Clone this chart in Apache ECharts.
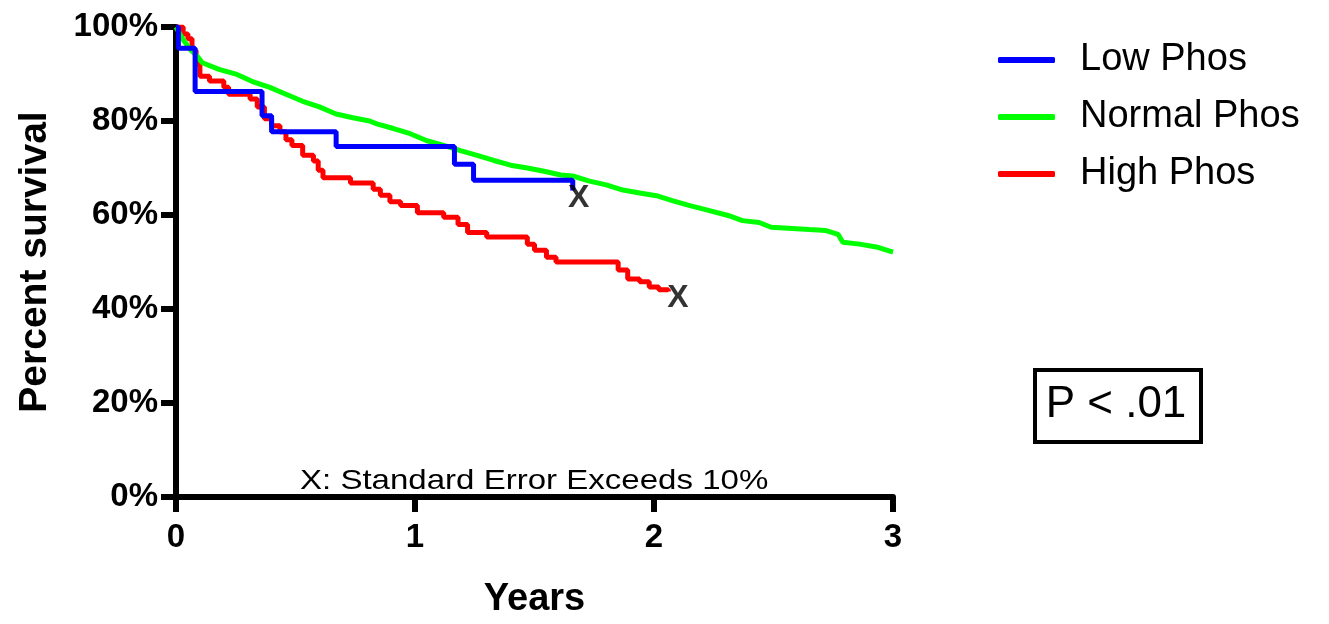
<!DOCTYPE html>
<html>
<head>
<meta charset="utf-8">
<script src="https://cdn.jsdelivr.net/npm/echarts@6/dist/echarts.min.js"></script>
<style>html,body{margin:0;padding:0;background:#fff;}#c{width:1329px;height:624px;}</style>
</head>
<body>
<div id="c"></div>
<script>
// Data (years, percent survival)
var lowTimes  = [0, 0.01, 0.08, 0.36, 0.40, 0.67, 1.165, 1.245, 1.66];
var lowVals   = [100, 95.5, 86.3, 81.1, 77.7, 74.6, 70.8, 67.4, 65.2];

var normalTimes = [0, 0.03, 0.06, 0.09, 0.11, 0.18, 0.255, 0.32, 0.39, 0.46, 0.53, 0.60, 0.67, 0.74, 0.81, 0.84, 0.91, 0.98, 1.05, 1.12, 1.19, 1.26, 1.33, 1.40, 1.47, 1.54, 1.61, 1.66, 1.73, 1.80, 1.87, 1.94, 2.01, 2.08, 2.15, 2.22, 2.31, 2.37, 2.44, 2.49, 2.65, 2.72, 2.77, 2.79, 2.86, 2.93, 3.0];
var normalVals  = [100, 97.3, 95.2, 93.7, 92.4, 91, 89.9, 88.4, 87.2, 85.7, 84.2, 83, 81.5, 80.7, 80, 79.4, 78.4, 77.3, 75.8, 74.8, 73.7, 72.7, 71.6, 70.6, 70, 69.3, 68.5, 68.3, 67.2, 66.4, 65.3, 64.7, 64.1, 63, 62, 61.1, 59.9, 58.8, 58.4, 57.4, 56.9, 56.7, 55.9, 54.2, 53.8, 53.2, 52.1];

var highTimes = [0, 0.03, 0.05, 0.067, 0.084, 0.10, 0.14, 0.20, 0.22, 0.31, 0.34, 0.37, 0.40, 0.435, 0.46, 0.485, 0.53, 0.575, 0.595, 0.615, 0.73, 0.825, 0.855, 0.895, 0.94, 1.01, 1.12, 1.18, 1.22, 1.30, 1.47, 1.50, 1.55, 1.59, 1.85, 1.89, 1.94, 1.98, 2.02, 2.06];
var highVals  = [100, 98.5, 97.5, 95, 92, 89.5, 88.5, 87.2, 85.7, 84.7, 83, 80.5, 79, 77.7, 76, 74.8, 72.7, 71.5, 69.5, 67.9, 66.8, 65.5, 64.2, 62.8, 62, 60.5, 59.5, 58, 56.3, 55.3, 53.8, 52.5, 51, 50, 48.3, 46.4, 45.8, 44.7, 44.1, 43.7];

var seMarks = [[1.685, 63.5], [2.10, 42.2]];

var seriesNames = ['Low Phos', 'Normal Phos', 'High Phos'];
var yTicks = [0, 20, 40, 60, 80, 100];
var xTicks = [0, 1, 2, 3];

function zip(a, b) { return a.map(function (t, i) { return [t, b[i]]; }); }

var font = '"Liberation Sans", Arial, sans-serif';
var chart = echarts.init(document.getElementById('c'), null, {renderer: 'canvas'});
chart.setOption({
  animation: false,
  backgroundColor: '#ffffff',
  grid: {left: 176, right: 436, top: 27, bottom: 121, containLabel: false},
  legend: {
    orient: 'vertical',
    left: 993, top: 35,
    itemWidth: 57, itemHeight: 6, itemGap: 17,
    icon: 'roundRect',
    data: seriesNames,
    textStyle: {fontFamily: font, fontSize: 38, color: '#000', padding: [0, 0, 0, 20], lineHeight: 40}
  },
  xAxis: {
    type: 'value', min: xTicks[0], max: xTicks[xTicks.length - 1], interval: 1,
    name: 'Years', nameLocation: 'middle', nameGap: 84,
    nameTextStyle: {fontFamily: font, fontSize: 38, fontWeight: 'bold', color: '#000'},
    axisLine: {show: true, lineStyle: {color: '#000', width: 6}},
    axisTick: {show: true, length: 15, lineStyle: {color: '#000', width: 6}},
    axisLabel: {fontFamily: font, fontSize: 33, fontWeight: 'bold', color: '#000', margin: 24},
    splitLine: {show: false}
  },
  yAxis: {
    type: 'value', min: yTicks[0], max: yTicks[yTicks.length - 1], interval: 20,
    name: 'Percent survival', nameLocation: 'middle', nameGap: 121,
    nameTextStyle: {fontFamily: font, fontSize: 39, fontWeight: 'bold', color: '#000'},
    axisLine: {show: true, lineStyle: {color: '#000', width: 6}},
    axisTick: {show: true, length: 15, lineStyle: {color: '#000', width: 6}},
    axisLabel: {fontFamily: font, fontSize: 33, fontWeight: 'bold', color: '#000', margin: 18, formatter: '{value}%'},
    splitLine: {show: false}
  },
  series: [
    {name: seriesNames[0], type: 'line', step: 'end', showSymbol: false, symbol: 'none', z: 4,
     data: zip(lowTimes, lowVals), lineStyle: {color: '#0000ff', width: 5}, itemStyle: {color: '#0000ff'}},
    {name: seriesNames[1], type: 'line', showSymbol: false, symbol: 'none', z: 3,
     data: zip(normalTimes, normalVals), lineStyle: {color: '#00ff00', width: 5}, itemStyle: {color: '#00ff00'}},
    {name: seriesNames[2], type: 'line', step: 'end', showSymbol: false, symbol: 'none', z: 2,
     data: zip(highTimes, highVals), lineStyle: {color: '#ff0000', width: 5}, itemStyle: {color: '#ff0000'}},
    {name: 'SE', type: 'scatter', symbolSize: 1, itemStyle: {color: 'rgba(0,0,0,0)'}, z: 6,
     data: seMarks,
     label: {show: true, position: 'inside', formatter: 'X', fontFamily: font, fontSize: 32, fontWeight: 'bold', color: '#000000', textBorderWidth: 0}}
  ],
  graphic: [
    {type: 'text', x: 300, y: 467, scaleX: 1.18, z: 10,
     style: {text: 'X: Standard Error Exceeds 10%', fontFamily: font, fontSize: 28, fill: '#000'}},
    {type: 'rect', left: 1033, top: 368, z: 10,
     shape: {width: 166, height: 72}, style: {fill: '#fff', stroke: '#000', lineWidth: 4}},
    {type: 'text', x: 1116, y: 405, z: 11,
     style: {text: 'P < .01', fontFamily: font, fontSize: 44, fill: '#000', align: 'center', verticalAlign: 'middle'}}
  ]
});
</script>
</body>
</html>
